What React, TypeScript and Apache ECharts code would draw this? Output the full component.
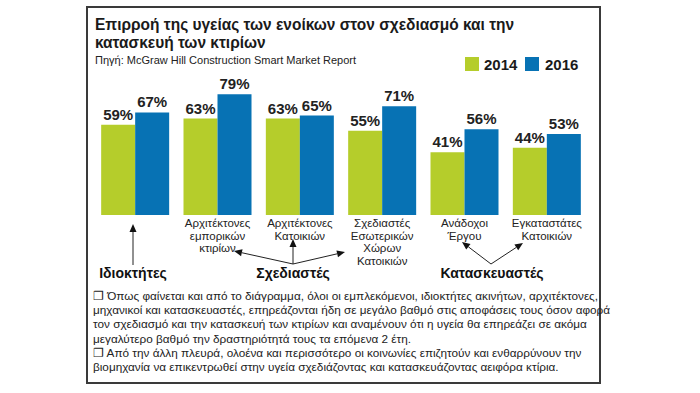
import React, { useEffect, useRef } from "react";
import * as echarts from "echarts";

const categories = [
  "Ιδιοκτήτες",
  "Αρχιτέκτονες\nεμπορικών\nκτιρίων",
  "Αρχιτέκτονες\nΚατοικιών",
  "Σχεδιαστές\nΕσωτερικών\nΧώρων\nΚατοικιών",
  "Ανάδοχοι\nΈργου",
  "Εγκαταστάτες\nΚατοικιών",
];
const values2014 = [59, 63, 63, 55, 41, 44];
const values2016 = [67, 79, 65, 71, 56, 53];
const seriesNames = ["2014", "2016"];
const groupLabels = ["Ιδιοκτήτες", "Σχεδιαστές", "Κατασκευαστές"];
const titleLines = [
  "Επιρροή της υγείας των ενοίκων στον σχεδιασμό και την",
  "κατασκευή των κτιρίων",
];
const sourceText = "Πηγή: McGraw Hill Construction Smart Market Report";
const bodyLines = [
  "❐ Όπως φαίνεται και από το διάγραμμα, όλοι οι εμπλεκόμενοι, ιδιοκτήτες ακινήτων, αρχιτέκτονες,",
  "μηχανικοί και κατασκευαστές, επηρεάζονται ήδη σε μεγάλο βαθμό στις αποφάσεις τους όσον αφορά",
  "τον σχεδιασμό και την κατασκευή των κτιρίων και αναμένουν ότι η υγεία θα επηρεάζει σε ακόμα",
  "μεγαλύτερο βαθμό την δραστηριότητά τους τα επόμενα 2 έτη.",
  "❐ Από την άλλη πλευρά, ολοένα και περισσότερο οι κοινωνίες επιζητούν και ενθαρρύνουν την",
  "βιομηχανία να επικεντρωθεί στην υγεία σχεδιάζοντας και κατασκευάζοντας αειφόρα κτίρια.",
];

const GREEN = "#b5cd2b";
const BLUE = "#0772b4";
const NARROW = '"Liberation Sans Narrow", "Liberation Sans", sans-serif';
const BOLD = '"Liberation Sans", Arial, sans-serif';

function arrow(x1: number, y1: number, x2: number, y2: number) {
  const dx = x2 - x1;
  const dy = y2 - y1;
  const len = Math.sqrt(dx * dx + dy * dy);
  const ux = dx / len;
  const uy = dy / len;
  const hl = 8;
  const hw = 3.5;
  const bx = x2 - ux * hl;
  const by = y2 - uy * hl;
  return [
    {
      type: "line",
      shape: { x1, y1, x2: bx, y2: by },
      style: { stroke: "#222", lineWidth: 1 },
      silent: true,
    },
    {
      type: "polygon",
      shape: {
        points: [
          [x2, y2],
          [bx - uy * hw, by + ux * hw],
          [bx + uy * hw, by - ux * hw],
        ],
      },
      style: { fill: "#111" },
      silent: true,
    },
  ];
}

function groupText(x: number, text: string) {
  return {
    type: "text",
    x,
    y: 273,
    style: {
      text,
      fontFamily: NARROW,
      fontWeight: "bold",
      fontSize: 14,
      align: "center",
      verticalAlign: "middle",
      fill: "#111",
    },
  };
}

function titleText(y: number, text: string) {
  return {
    type: "text",
    x: 95,
    y,
    scaleX: 0.91,
    scaleY: 1,
    style: {
      text,
      fontFamily: BOLD,
      fontWeight: "bold",
      fontSize: 17,
      verticalAlign: "middle",
      fill: "#1a1a1a",
    },
  };
}

export default function App() {
  const ref = useRef<HTMLDivElement>(null);
  useEffect(() => {
    if (!ref.current) return;
    const chart = echarts.init(ref.current, null, { renderer: "svg" });
    const labelStyle = {
      show: true,
      position: "top" as const,
      distance: 3,
      fontFamily: BOLD,
      fontWeight: "bold" as const,
      fontSize: 15,
      color: "#222",
      formatter: "{c}%",
    };
    const graphic: any[] = [
      {
        type: "rect",
        shape: { x: 87, y: 7, width: 513, height: 376 },
        style: { fill: "#fff", stroke: "#3a3a3a", lineWidth: 2 },
        z: -10,
        silent: true,
      },
      titleText(24, titleLines[0]),
      titleText(42, titleLines[1]),
      {
        type: "text",
        x: 95,
        y: 60,
        style: {
          text: sourceText,
          fontFamily: NARROW,
          fontSize: 11,
          verticalAlign: "middle",
          fill: "#222",
        },
      },
      {
        type: "rect",
        shape: { x: 465, y: 57, width: 14, height: 14 },
        style: { fill: GREEN },
      },
      {
        type: "text",
        x: 484,
        y: 64,
        style: {
          text: seriesNames[0],
          fontFamily: BOLD,
          fontWeight: "bold",
          fontSize: 15,
          verticalAlign: "middle",
          fill: "#1a1a1a",
        },
      },
      {
        type: "rect",
        shape: { x: 525, y: 57, width: 14, height: 14 },
        style: { fill: BLUE },
      },
      {
        type: "text",
        x: 545,
        y: 64,
        style: {
          text: seriesNames[1],
          fontFamily: BOLD,
          fontWeight: "bold",
          fontSize: 15,
          verticalAlign: "middle",
          fill: "#1a1a1a",
        },
      },
      groupText(133, groupLabels[0]),
      groupText(293, groupLabels[1]),
      groupText(492, groupLabels[2]),
      ...arrow(133, 265, 133, 224),
      ...arrow(293, 264, 234, 251),
      ...arrow(293, 264, 293, 239),
      ...arrow(293, 264, 345, 252),
      ...arrow(491, 264, 462, 242),
      ...arrow(491, 264, 523, 243),
      {
        type: "text",
        x: 93,
        y: 288,
        style: {
          text: bodyLines.join("\n"),
          fontFamily: NARROW,
          fontSize: 11.75,
          lineHeight: 14.3,
          fill: "#222",
        },
      },
    ];
    chart.setOption({
      animation: false,
      grid: { left: 94, right: 112, top: 62, bottom: 178, containLabel: false },
      xAxis: {
        type: "category",
        data: categories,
        axisLine: { show: false },
        axisTick: { show: false },
        axisLabel: {
          interval: 0,
          margin: 2,
          fontFamily: NARROW,
          fontSize: 11.5,
          lineHeight: 12.5,
          color: "#222",
          formatter: (v: string, i: number) => (i === 0 ? "" : v),
        },
      },
      yAxis: {
        type: "value",
        min: 0,
        max: 100,
        show: false,
        splitLine: { show: false },
      },
      series: [
        {
          name: seriesNames[0],
          type: "bar",
          data: values2014,
          barWidth: 34,
          barGap: "0%",
          itemStyle: { color: GREEN },
          label: labelStyle,
        },
        {
          name: seriesNames[1],
          type: "bar",
          data: values2016,
          barWidth: 34,
          barGap: "0%",
          itemStyle: { color: BLUE },
          label: labelStyle,
        },
      ],
      graphic,
    });
    return () => chart.dispose();
  }, []);
  return (
    <div
      ref={ref}
      style={{ position: "fixed", left: 0, top: 0, width: 700, height: 393, background: "#fff" }}
    />
  );
}
